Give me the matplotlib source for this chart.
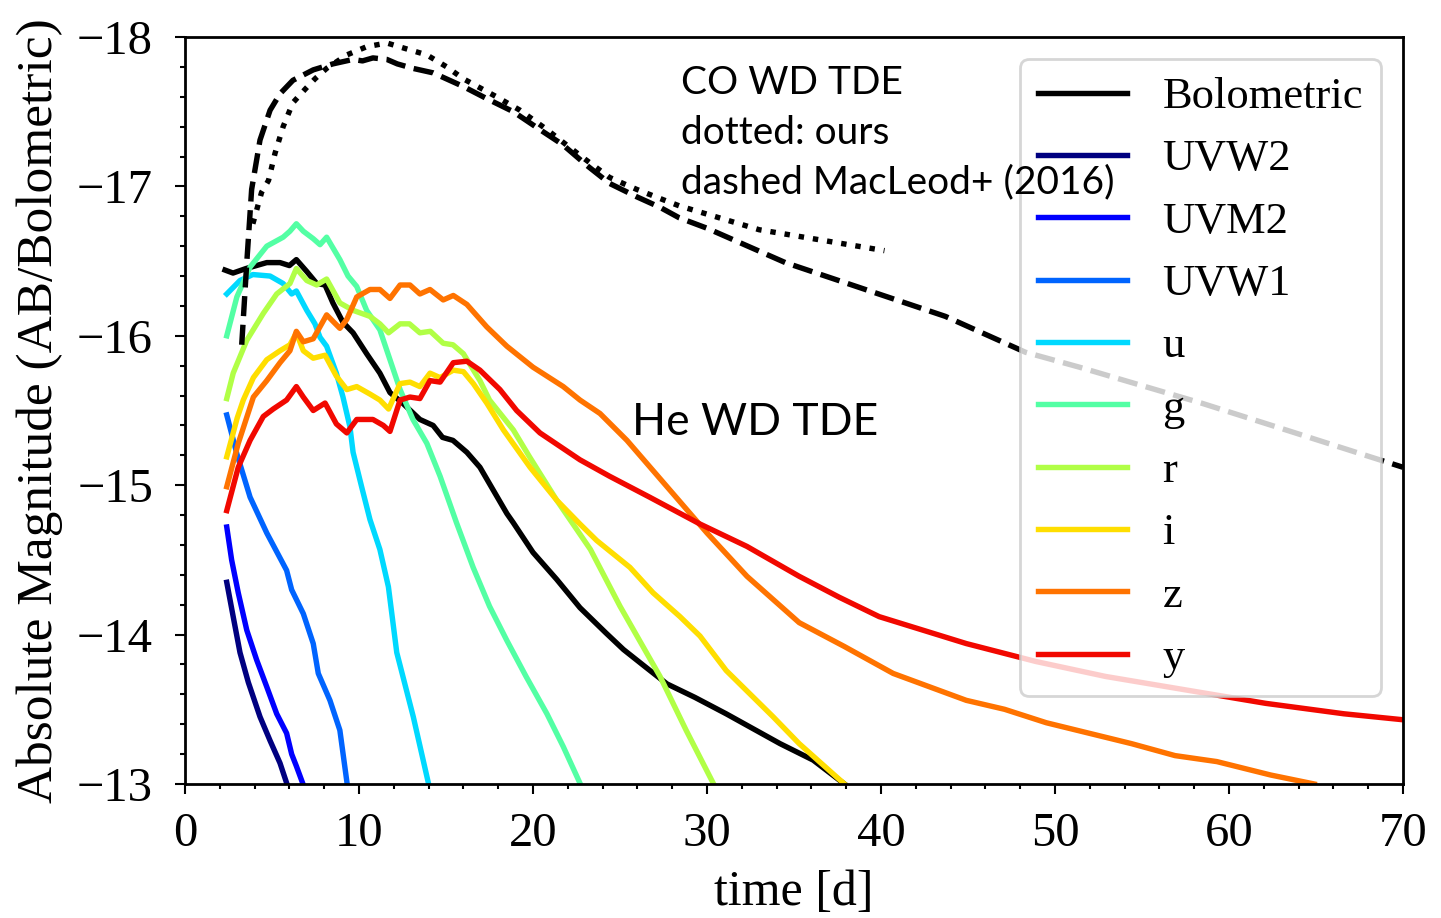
import numpy as np
import matplotlib

matplotlib.use("Agg")
import matplotlib.pyplot as plt
from matplotlib.ticker import MultipleLocator

plt.rcParams["font.family"] = ["Liberation Serif", "DejaVu Serif"]
plt.rcParams["axes.unicode_minus"] = True

# ---------------------------------------------------------------------------
# He WD TDE light curves (absolute AB magnitudes)
# ---------------------------------------------------------------------------
bolo_t = [2.3, 2.76, 3.5, 4.7, 5.46, 6.0, 6.4, 7.0, 7.57, 8.05, 8.5, 9.08, 9.66,
          10.44, 11.2, 11.78, 12.5, 13.5, 14.26, 14.8, 15.4, 16.2, 16.95, 18.5,
          18.86, 20.0, 21.36, 22.7, 24.2, 25.2, 26.5, 27.7, 29.3, 31.1, 34.2, 36.1, 37.9]
bolo_m = [-16.44, -16.42, -16.45, -16.49, -16.49, -16.47, -16.51, -16.43, -16.35,
          -16.34, -16.22, -16.09, -16.02, -15.88, -15.75, -15.62, -15.55, -15.44,
          -15.40, -15.32, -15.30, -15.22, -15.12, -14.81, -14.75, -14.55, -14.37,
          -14.18, -14.01, -13.90, -13.78, -13.67, -13.58, -13.47, -13.27, -13.16, -13.0]

uvw2_t = [2.4, 2.77, 3.16, 3.64, 4.31, 4.89, 5.46, 5.86]
uvw2_m = [-14.35, -14.12, -13.88, -13.68, -13.45, -13.29, -13.14, -13.0]

uvm2_t = [2.4, 2.68, 3.06, 3.55, 4.12, 4.7, 5.27, 5.84, 6.13, 6.4, 6.78]
uvm2_m = [-14.72, -14.5, -14.28, -14.03, -13.83, -13.65, -13.47, -13.34, -13.2,
          -13.12, -13.0]

uvw1_t = [2.4, 2.98, 3.74, 4.7, 5.84, 6.13, 6.8, 7.37, 7.66, 8.33, 8.9, 9.32]
uvw1_m = [-15.47, -15.21, -14.92, -14.68, -14.43, -14.3, -14.14, -13.94, -13.74,
          -13.56, -13.36, -13.0]

u_t = [2.4, 3.16, 3.9, 4.89, 5.64, 6.13, 6.4, 7.0, 7.47, 7.76, 8.14, 8.7, 9.08,
       9.48, 9.66, 10.15, 10.63, 11.2, 11.69, 12.17, 13.12, 14.0]
u_m = [-16.28, -16.37, -16.41, -16.40, -16.35, -16.28, -16.30, -16.17, -16.08,
       -15.99, -15.93, -15.75, -15.59, -15.39, -15.22, -14.99, -14.77, -14.57,
       -14.32, -13.88, -13.45, -13.0]

g_t = [2.4, 2.98, 3.74, 4.7, 5.64, 6.03, 6.4, 6.8, 7.37, 7.76, 8.14, 8.9, 9.37,
       9.87, 10.44, 11.2, 11.78, 12.36, 13.1, 13.9, 14.66, 15.6, 16.56, 17.5,
       18.5, 19.6, 20.8, 21.74, 22.72]
g_m = [-16.0, -16.26, -16.46, -16.6, -16.66, -16.70, -16.75, -16.70, -16.65,
       -16.61, -16.66, -16.51, -16.40, -16.33, -16.17, -16.04, -15.84, -15.64,
       -15.44, -15.28, -15.06, -14.75, -14.45, -14.19, -13.96, -13.72, -13.47,
       -13.25, -13.0]

r_t = [2.4, 2.77, 3.55, 4.5, 5.27, 6.03, 6.4, 7.0, 7.57, 8.14, 8.9, 9.67, 10.63,
       11.2, 11.7, 12.36, 12.9, 13.5, 14.1, 14.84, 15.4, 16.0, 16.95, 17.5, 18.87,
       19.8, 21.36, 23.3, 25.0, 27.3, 28.8, 30.38]
r_m = [-15.58, -15.75, -15.97, -16.15, -16.28, -16.35, -16.45, -16.37, -16.34,
       -16.38, -16.22, -16.17, -16.13, -16.08, -16.02, -16.08, -16.08, -16.02,
       -16.03, -15.95, -15.94, -15.88, -15.70, -15.57, -15.37, -15.19, -14.90,
       -14.57, -14.19, -13.72, -13.36, -13.0]

i_t = [2.4, 3.0, 3.35, 3.93, 4.7, 5.46, 6.03, 6.4, 6.8, 7.37, 8.05, 8.7, 9.3,
       9.87, 10.63, 11.2, 11.7, 12.36, 12.93, 13.5, 14.08, 14.66, 15.42, 16.0,
       16.57, 17.34, 18.3, 19.83, 21.36, 22.7, 23.66, 25.57, 26.9, 28.45, 29.6,
       31.1, 33.8, 35.3, 37.9]
i_m = [-15.19, -15.45, -15.57, -15.72, -15.84, -15.90, -15.94, -16.02, -15.90,
       -15.85, -15.87, -15.73, -15.64, -15.66, -15.61, -15.57, -15.51, -15.68,
       -15.69, -15.66, -15.75, -15.72, -15.77, -15.76, -15.68, -15.55, -15.37,
       -15.12, -14.90, -14.74, -14.63, -14.45, -14.28, -14.12, -13.99, -13.76,
       -13.45, -13.27, -13.0]

z_t = [2.4, 3.06, 3.93, 4.7, 5.46, 6.03, 6.4, 6.8, 7.37, 8.14, 8.9, 9.3, 9.87,
       10.63, 11.2, 11.78, 12.36, 12.93, 13.5, 14.08, 14.84, 15.42, 16.2, 17.34,
       18.5, 20.0, 21.74, 22.7, 23.85, 25.4, 27.7, 30.0, 32.3, 35.3, 37.9, 40.7,
       44.9, 47.1, 49.5, 54.4, 56.9, 59.3, 62.4, 64.9]
z_m = [-14.99, -15.28, -15.59, -15.70, -15.82, -15.90, -16.03, -15.96, -15.98,
       -16.14, -16.05, -16.11, -16.26, -16.31, -16.31, -16.25, -16.34, -16.34,
       -16.28, -16.31, -16.24, -16.27, -16.21, -16.06, -15.93, -15.79, -15.66,
       -15.57, -15.48, -15.30, -14.99, -14.68, -14.39, -14.08, -13.92, -13.74,
       -13.56, -13.50, -13.41, -13.27, -13.19, -13.15, -13.06, -13.0]

y_t = [2.4, 3.06, 3.74, 4.5, 5.07, 5.84, 6.4, 6.8, 7.37, 8.05, 8.7, 9.3, 9.87,
       10.8, 11.4, 11.78, 12.36, 12.93, 13.5, 14.08, 14.66, 15.42, 16.2, 16.95,
       18.1, 19.06, 20.4, 22.7, 24.4, 26.7, 29.6, 32.3, 35.3, 37.6, 39.9, 44.9,
       48.9, 52.9, 57.5, 62.1, 66.6, 70.0]
y_m = [-14.83, -15.12, -15.30, -15.46, -15.51, -15.57, -15.66, -15.59, -15.50,
       -15.55, -15.41, -15.35, -15.44, -15.44, -15.40, -15.36, -15.57, -15.59,
       -15.58, -15.70, -15.69, -15.82, -15.83, -15.77, -15.64, -15.50, -15.35,
       -15.17, -15.06, -14.92, -14.74, -14.59, -14.39, -14.25, -14.12, -13.94,
       -13.82, -13.72, -13.63, -13.54, -13.47, -13.43]

# CO WD TDE bolometric curves
co_ours_t = [3.9, 4.4, 4.8, 5.17, 5.64, 6.2, 6.9, 7.47, 8.14, 9.3, 10.44, 11.6,
             12.74, 13.9, 15.04, 16.0, 17.9, 19.25, 20.8, 21.9, 22.9, 24.4,
             25.96, 27.5, 28.4, 33.0, 40.2]
co_ours_m = [-16.75, -16.96, -17.04, -17.22, -17.40, -17.56, -17.65, -17.72,
             -17.79, -17.88, -17.935, -17.96, -17.92, -17.88, -17.80, -17.72,
             -17.60, -17.51, -17.38, -17.28, -17.19, -17.06, -16.98, -16.91,
             -16.87, -16.71, -16.57]

co_macleod_t = [3.26, 3.55, 3.83, 4.31, 4.89, 5.46, 6.2, 7.37, 8.5, 9.66, 10.2,
                10.8, 11.6, 12.2, 13.1, 14.26, 15.97, 17.3, 18.87, 20.4, 21.7,
                23.1, 24.4, 25.97, 27.3, 28.4, 30.0, 34.5, 39.1, 43.7, 48.3,
                51.4, 58.4, 63.0, 70.0]
co_macleod_m = [-15.94, -16.49, -16.98, -17.31, -17.51, -17.62, -17.71, -17.78,
                -17.82, -17.85, -17.84, -17.86, -17.85, -17.82, -17.79, -17.76,
                -17.67, -17.59, -17.50, -17.38, -17.28, -17.14, -17.02, -16.93,
                -16.86, -16.79, -16.72, -16.49, -16.31, -16.13, -15.89, -15.79,
                -15.55, -15.38, -15.12]

bands = ["UVW2", "UVM2", "UVW1", "u", "g", "r", "i", "z", "y"]
band_t = [uvw2_t, uvm2_t, uvw1_t, u_t, g_t, r_t, i_t, z_t, y_t]
band_m = [uvw2_m, uvm2_m, uvw1_m, u_m, g_m, r_m, i_m, z_m, y_m]

# ---------------------------------------------------------------------------
fig = plt.figure(figsize=(14.41, 9.18), dpi=100)
ax = fig.add_axes([185 / 1441, 1 - 784 / 918, 1218 / 1441, 747 / 918])

lw = 3.9
ax.plot(bolo_t, bolo_m, color="k", lw=lw, label="Bolometric")
colors = plt.cm.jet(np.linspace(0.0, 0.9, len(bands)))
for name, t, m, c in zip(bands, band_t, band_m, colors):
    ax.plot(t, m, color=c, lw=lw, label=name)

ax.plot(co_macleod_t, co_macleod_m, color="k", lw=lw, ls="--")
ax.plot(co_ours_t, co_ours_m, color="k", lw=lw, ls=":")

ax.text(28.5, -17.81, "CO WD TDE\ndotted: ours\ndashed MacLeod+ (2016)",
        family="Lato", fontsize=28, ha="left", va="top", linespacing=1.46,
        zorder=6)
ax.text(25.7, -15.28, "He WD TDE", family="Lato", fontsize=32,
        ha="left", va="bottom", zorder=6)

ax.set_xlim(0, 70)
ax.set_ylim(-13, -18)
ax.xaxis.set_major_locator(MultipleLocator(10))
ax.xaxis.set_minor_locator(MultipleLocator(2))
ax.yaxis.set_major_locator(MultipleLocator(1))
ax.yaxis.set_minor_locator(MultipleLocator(0.2))
ax.tick_params(which="major", length=7, width=1.5, labelsize=35)
ax.tick_params(which="minor", length=3.5, width=1.5)
ax.tick_params(axis="x", which="major", pad=13)
ax.tick_params(axis="y", which="major", pad=16)
for sp in ax.spines.values():
    sp.set_linewidth(2)

ax.set_xlabel("time [d]", fontsize=36, labelpad=10)
ax.set_ylabel("Absolute Magnitude (AB/Bolometric)", fontsize=37, labelpad=10)

leg = ax.legend(loc="upper right", fontsize=32, handlelength=2.0,
                labelspacing=0.5, borderaxespad=0.5)
leg.get_frame().set_linewidth(2)

fig.savefig("out.png", dpi=100)
